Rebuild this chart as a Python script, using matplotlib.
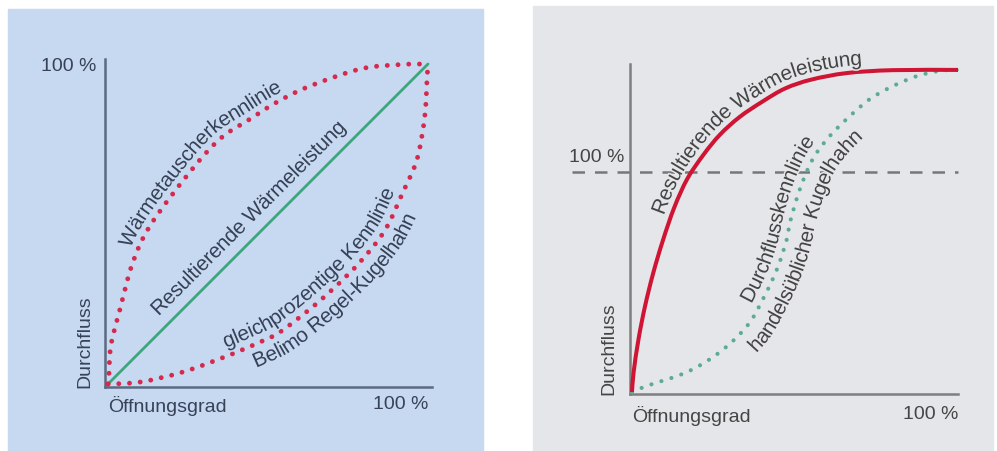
import numpy as np
import matplotlib
matplotlib.use("Agg")
import matplotlib.pyplot as plt
import matplotlib.patheffects as pe
from matplotlib.patches import Rectangle, PathPatch
from matplotlib.path import Path
from matplotlib.transforms import IdentityTransform
from matplotlib.font_manager import FontProperties, findfont, get_font

# ---------------- data ----------------
# Left panel: Öffnungsgrad (%) vs. Durchfluss (%)
left_lin_x = [0, 100]
left_lin_y = [0, 100]
left_wt_x = [0, 0.3, 0.9, 3.75, 7.8, 13.5, 25.6, 35, 44.4, 52.8, 63.1, 78.75, 91, 100]
left_wt_y = [0, 3, 12, 23.4, 38.1, 50, 66.25, 76.6, 82.8, 88.1, 93.1, 98.4, 99.8, 100]
left_eq_x = [0, 10, 23.4, 37.2, 47.5, 53.75, 63.1, 70.3, 78.75, 86.5, 92.2, 96.6, 99, 99.7, 100]
left_eq_y = [0, 0.6, 3.75, 8.75, 13.1, 16.25, 23.4, 29.7, 38.1, 48, 60, 70.3, 83.75, 95.3, 100]

# Right panel (100 % = dashed line)
right_heat_x = [0, 0.5, 2, 4, 6.5, 9.5, 13, 17, 22, 27, 33, 40, 47, 55, 66, 80, 100]
right_heat_y = [0, 9, 24, 39, 54, 69, 84, 97, 108, 117, 125, 132, 138, 142, 145, 146.3, 146.4]
right_flow_x = [0, 4.6, 16.9, 27, 35.3, 40.2, 44.5, 47.5, 48.5, 51.5, 55.5, 60.7, 66.9, 73, 80.1, 87.4, 94.5, 100]
right_flow_y = [0, 2.8, 9.1, 18.2, 30, 42.3, 55.9, 69.5, 77.3, 92.2, 106, 116.4, 125.5, 133.2, 139.1, 143.6, 146, 146.4]
right_ref_level = 100

x_ticks = [0, 100]
x_tick_labels = ["Öffnungsgrad", "100 %"]
y_ticks = [100]
y_tick_labels = ["100 %"]
y_label = "Durchfluss"

# ---------------- style ----------------
W, H = 997, 452
FAMILY = "Liberation Sans"
TXT_L = "#384256"
TXT_R = "#454545"
RED = "#d42a4e"
RED_SOLID = "#cf1434"
GREEN = "#3fa57c"
GREEN_DOT = "#5eab93"
BG_L = "#c6d9f1"
BG_R = "#e5e6e9"

fig = plt.figure(figsize=(W / 100, H / 100), dpi=100)
fig.patch.set_facecolor("white")


def frect(x0, y0, x1, y1):
    return [x0 / W, 1 - y1 / H, (x1 - x0) / W, (y1 - y0) / H]


fig.add_artist(Rectangle((8 / W, 0), (483 - 8) / W, (452 - 10) / H,
                         transform=fig.transFigure, color=BG_L, zorder=0))
fig.add_artist(Rectangle((533 / W, 0), (993 - 533) / W, (452 - 7) / H,
                         transform=fig.transFigure, color=BG_R, zorder=0))


def bezier_path(xs, ys):
    """Smooth cubic (Catmull-Rom style) path through the given points."""
    P = np.column_stack([xs, ys]).astype(float)
    n = len(P)
    if n == 2:
        return Path(P, [Path.MOVETO, Path.LINETO])
    verts = [P[0]]
    codes = [Path.MOVETO]
    for i in range(n - 1):
        p0 = P[i - 1] if i > 0 else P[i]
        p1, p2 = P[i], P[i + 1]
        p3 = P[i + 2] if i + 2 < n else P[i + 1]
        verts += [p1 + (p2 - p0) / 6, p2 - (p3 - p1) / 6, p2]
        codes += [Path.CURVE4] * 3
    return Path(verts, codes)


def sample_path(path, m=40):
    v = path.vertices
    if len(v) == 2:
        return v
    out = [v[0]]
    t = np.linspace(0, 1, m)[1:, None]
    for i in range(1, len(v), 3):
        a, b, c, d = v[i - 1], v[i], v[i + 1], v[i + 2]
        out.extend((1 - t) ** 3 * a + 3 * (1 - t) ** 2 * t * b + 3 * (1 - t) * t ** 2 * c + t ** 3 * d)
    return np.array(out)


def draw_curve(ax, xs, ys, **kw):
    path = bezier_path(xs, ys)
    ax.add_patch(PathPatch(path, fill=False, transform=ax.transData, clip_on=False, **kw))
    return path


def char_advances(text, size):
    prop = FontProperties(family=FAMILY, size=size)
    font = get_font(findfont(prop))
    font.set_size(size, 100)
    return np.array([font.load_char(ord(c)).linearHoriAdvance / 65536 for c in text])


def curved_text(ax, path, text, anchor, offset, size=15, color="k", bg="w", track=1.0):
    pts = ax.transData.transform(sample_path(path))
    seg = np.hypot(*np.diff(pts, axis=0).T)
    s = np.concatenate([[0], np.cumsum(seg)])
    ss = np.linspace(0, s[-1], 3000)
    px = np.interp(ss, s, pts[:, 0])
    py = np.interp(ss, s, pts[:, 1])
    step = ss[1] - ss[0]
    k = max(3, int(20 / step))
    kern = np.ones(k) / k
    pad = (k // 2, k - 1 - k // 2)
    dx = np.convolve(np.pad(np.gradient(px), pad, mode="edge"), kern, mode="valid")
    dy = np.convolve(np.pad(np.gradient(py), pad, mode="edge"), kern, mode="valid")
    ang = np.arctan2(dy, dx)
    ox = px - offset * np.sin(ang)
    oy = py + offset * np.cos(ang)
    so = np.concatenate([[0], np.cumsum(np.hypot(np.diff(ox), np.diff(oy)))])
    a = ax.transData.transform(anchor)
    i0 = np.argmin(np.hypot(px - a[0], py - a[1]))
    pos = so[i0]
    halo = [pe.withStroke(linewidth=2.2, foreground=bg)]
    for ch, w in zip(text, char_advances(text, size) * track):
        c = pos + w / 2
        x = np.interp(c, so, ox)
        y = np.interp(c, so, oy)
        r = np.degrees(np.interp(c, so, ang))
        ax.text(x, y, ch, transform=IdentityTransform(), rotation=r,
                rotation_mode="anchor", ha="center", va="baseline",
                fontsize=size, family=FAMILY, color=color, zorder=6,
                path_effects=halo)
        pos += w


def style_axes(ax, axcol, txtcol, xpad):
    ax.set_facecolor("none")
    for sp in ("top", "right"):
        ax.spines[sp].set_visible(False)
    for sp in ("left", "bottom"):
        ax.spines[sp].set_color(axcol)
        ax.spines[sp].set_linewidth(1.8)
    ax.set_xticks(x_ticks)
    ax.set_xticklabels(x_tick_labels, fontsize=14, family=FAMILY, color=txtcol)
    lbls = ax.get_xticklabels()
    lbls[0].set_horizontalalignment("left")
    lbls[1].set_horizontalalignment("right")
    ax.tick_params(axis="x", length=0, pad=xpad)
    ax.tick_params(axis="y", length=0, pad=6)


# ---------------- left panel ----------------
axL = fig.add_axes(frect(105, 60, 432, 388))
axL.set_xlim(-0.94, 101.25)
axL.set_ylim(-0.94, 101.56)
style_axes(axL, "#5b6a80", TXT_L, 6)
axL.set_yticks(y_ticks)
axL.set_yticklabels(y_tick_labels, fontsize=14, family=FAMILY, color=TXT_L)
axL.set_ylabel(y_label, loc="bottom", fontsize=14, family=FAMILY, color=TXT_L)
axL.yaxis.set_label_coords(-0.035, 0.0)

dot = dict(linestyle=(0, (0.01, 2.2)), capstyle="round", lw=3.5)
p_lin = draw_curve(axL, left_lin_x, left_lin_y, edgecolor=GREEN, lw=2.0, capstyle="round", zorder=3)
p_wt = draw_curve(axL, left_wt_x, left_wt_y, edgecolor=RED, zorder=4, **dot)
p_eq = draw_curve(axL, left_eq_x, left_eq_y, edgecolor=RED, zorder=4, **dot)

curved_text(axL, p_wt, "Wärmetauscherkennlinie", (3, 44), 7, color=TXT_L, bg=BG_L, track=0.97)
curved_text(axL, p_lin, "Resultierende Wärmeleistung", (14, 23), 12, color=TXT_L, bg=BG_L, track=0.97)
curved_text(axL, p_eq, "gleichprozentige Kennlinie", (37, 11), 8, color=TXT_L, bg=BG_L, track=0.97)
curved_text(axL, p_eq, "Belimo Regel-Kugelhahn", (46.5, 4.7), -22, color=TXT_L, bg=BG_L, track=0.97)

# ---------------- right panel ----------------
axR = fig.add_axes(frect(630, 65, 958, 395))
axR.set_xlim(-0.61, 100)
axR.set_ylim(-0.91, 149.1)
style_axes(axR, "#7f7f7f", TXT_R, 8)
axR.set_yticks([])
axR.set_ylabel(y_label, loc="bottom", fontsize=14, family=FAMILY, color=TXT_R)
axR.yaxis.set_label_coords(-0.037, 0.0)

axR.plot([-18.4, 100], [right_ref_level] * 2, color="#777777", lw=1.8,
         linestyle=(0, (5, 4)), clip_on=False, zorder=2)
axR.annotate(y_tick_labels[0], xy=(0, right_ref_level), xytext=(-8, 7),
             textcoords="offset pixels", ha="right", va="bottom",
             fontsize=14, family=FAMILY, color=TXT_R)

p_flow = draw_curve(axR, right_flow_x, right_flow_y, edgecolor=GREEN_DOT, zorder=3,
                    linestyle=(0, (0.01, 2.5)), capstyle="round", lw=3.0)
p_heat = draw_curve(axR, right_heat_x, right_heat_y, edgecolor=RED_SOLID, lw=2.9,
                    capstyle="butt", zorder=4)

curved_text(axR, p_heat, "Resultierende Wärmeleistung", (4.6, 83), 7, color=TXT_R, bg=BG_R, track=0.97)
curved_text(axR, p_flow, "Durchflusskennlinie", (34, 42), 8, color=TXT_R, bg=BG_R, track=0.97)
curved_text(axR, p_flow, "handelsüblicher Kugelhahn", (37, 19.5), -25, color=TXT_R, bg=BG_R, track=0.97)

fig.savefig("out.png", dpi=100, facecolor="white")
